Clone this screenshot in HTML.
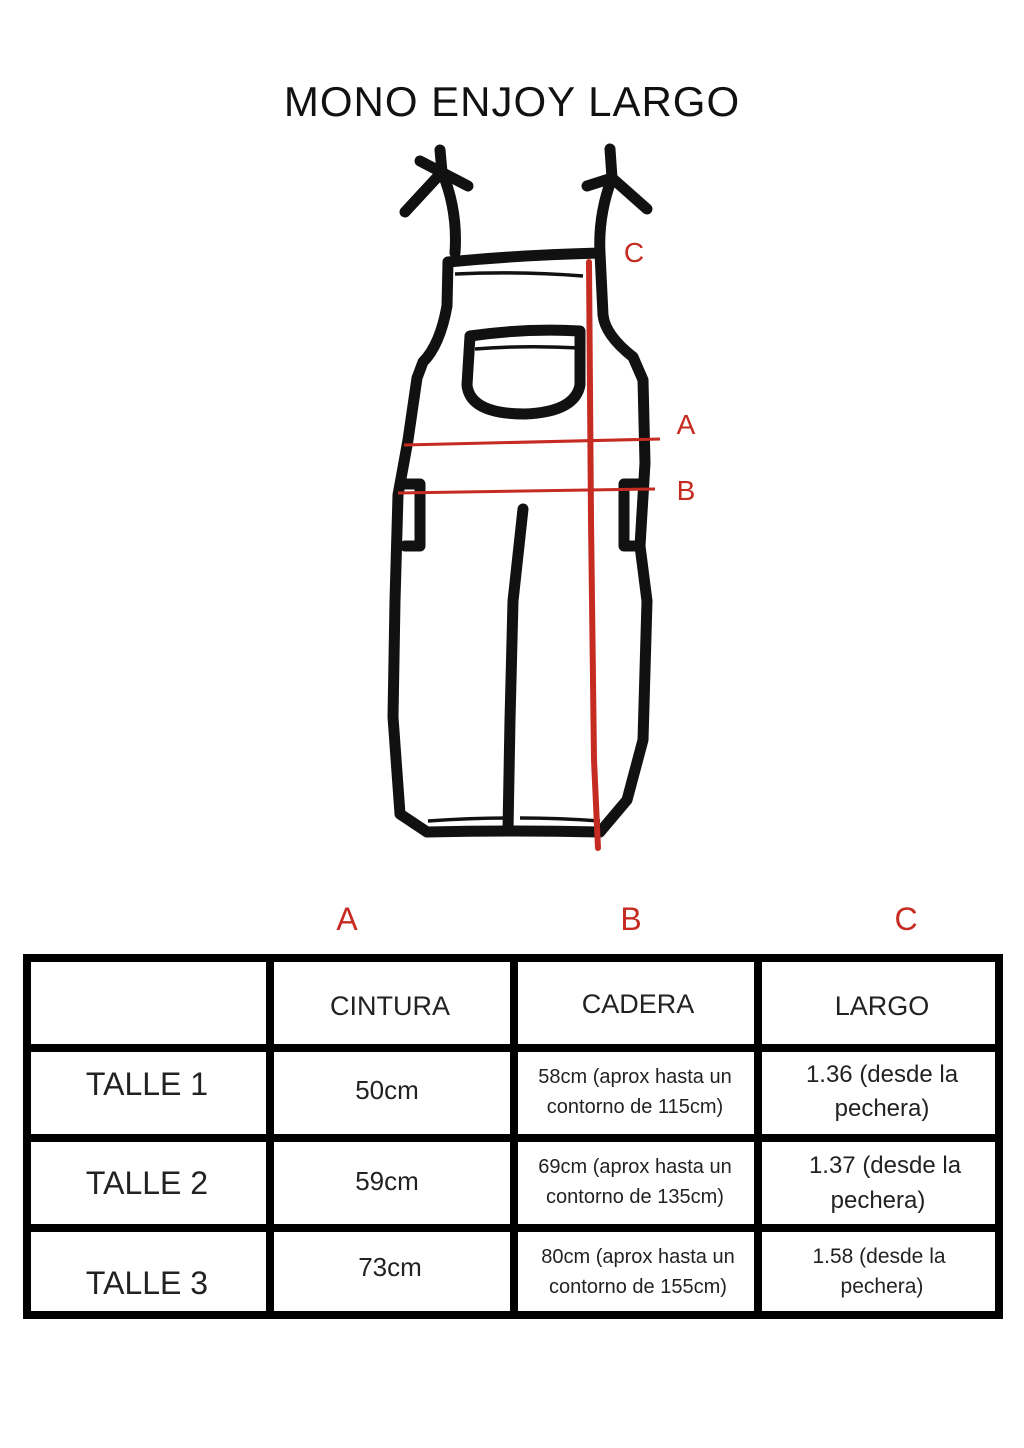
<!DOCTYPE html>
<html><head><meta charset="utf-8"><style>
html,body{margin:0;padding:0;background:#fff;}
svg{display:block;}
text{font-family:"Liberation Sans",sans-serif;}
</style></head><body>
<svg width="1024" height="1448" viewBox="0 0 1024 1448" xmlns="http://www.w3.org/2000/svg">
<rect width="1024" height="1448" fill="#fff"/>
<text x="512" y="116" text-anchor="middle" font-size="42" fill="#111" letter-spacing="1">MONO ENJOY LARGO</text>

<g fill="none" stroke="#111" stroke-width="11" stroke-linecap="round" stroke-linejoin="round">
<!-- left knot -->
<path d="M420,161 L468,186"/><path d="M440,150 L442,172 L405,212"/>
<path d="M442,172 Q458,210 455,253"/>
<!-- right knot -->
<path d="M587,186 L612,178 L647,209"/><path d="M610,149 L612,178"/>
<path d="M612,178 Q598,215 600,253"/>
<!-- body -->
<path d="M448,262 Q520,255 600,253"/>
<path d="M448,262 L447,306 Q440,345 423,362 L417,378 L408,440 L398,495 L395,601 L393,717 L400,814 L427,832 Q515,830 600,832 L627,800 L643,740 L647,601 L640,546 L645,463 L643,380 L633,357 Q605,335 603,315 L600,253"/>
<path d="M523,509 L513,601 L510,720 L508,830"/>
<!-- pocket -->
<path d="M470,336 Q525,328 580,331 L580,385 Q575,412 525,414 Q470,414 467,385 Z"/>
<!-- side pockets -->
<path d="M400,484 L420,484 L420,546 L405,546"/>
<path d="M640,484 L624,484 L624,546 L640,546"/>
</g>
<g fill="none" stroke="#111" stroke-width="3.5">
<path d="M455,274 Q520,271 583,276"/>
<path d="M475,349 Q525,345 580,348"/>
<path d="M428,821 Q470,818 508,818"/>
<path d="M520,818 Q560,818 600,821"/>
</g>
<g stroke="#c62b22" fill="none">
<path d="M404,445 L660,439" stroke-width="3"/>
<path d="M398,493 L655,489" stroke-width="3"/>
<path d="M589,262 L591,520 L594,760 L598,848" stroke-width="6" stroke-linecap="round"/>
</g>
<g fill="#c62b22" font-size="28" text-anchor="middle">
<text x="634" y="262">C</text>
<text x="686" y="434">A</text>
<text x="686" y="500">B</text>
<text x="347" y="930" font-size="32">A</text>
<text x="631" y="930" font-size="32">B</text>
<text x="906" y="930" font-size="32">C</text>
</g>

<!-- table -->
<g fill="none" stroke="#000" stroke-width="8">
<rect x="27" y="958" width="972" height="357"/>
<line x1="270" y1="958" x2="270" y2="1315"/>
<line x1="514" y1="958" x2="514" y2="1315"/>
<line x1="758" y1="958" x2="758" y2="1315"/>
<line x1="27" y1="1048" x2="999" y2="1048"/>
<line x1="27" y1="1138" x2="999" y2="1138"/>
<line x1="27" y1="1228" x2="999" y2="1228"/>
</g>
<g fill="#222" text-anchor="middle">
<text x="390" y="1015" font-size="27">CINTURA</text>
<text x="638" y="1013" font-size="27">CADERA</text>
<text x="882" y="1015" font-size="27">LARGO</text>
<text x="147" y="1095" font-size="32">TALLE 1</text>
<text x="147" y="1194" font-size="32">TALLE 2</text>
<text x="147" y="1294" font-size="32">TALLE 3</text>
<text x="387" y="1099" font-size="26">50cm</text>
<text x="387" y="1190" font-size="26">59cm</text>
<text x="390" y="1276" font-size="26">73cm</text>
<text x="635" y="1083" font-size="20">58cm (aprox hasta un</text>
<text x="635" y="1113" font-size="20">contorno de 115cm)</text>
<text x="635" y="1173" font-size="20">69cm (aprox hasta un</text>
<text x="635" y="1203" font-size="20">contorno de 135cm)</text>
<text x="638" y="1263" font-size="20">80cm (aprox hasta un</text>
<text x="638" y="1293" font-size="20">contorno de 155cm)</text>
<text x="882" y="1082" font-size="24">1.36 (desde la</text>
<text x="882" y="1116" font-size="24">pechera)</text>
<text x="885" y="1173" font-size="24">1.37 (desde la</text>
<text x="878" y="1208" font-size="24">pechera)</text>
<text x="879" y="1263" font-size="21">1.58 (desde la</text>
<text x="882" y="1293" font-size="21">pechera)</text>
</g>
</svg>
</body></html>
